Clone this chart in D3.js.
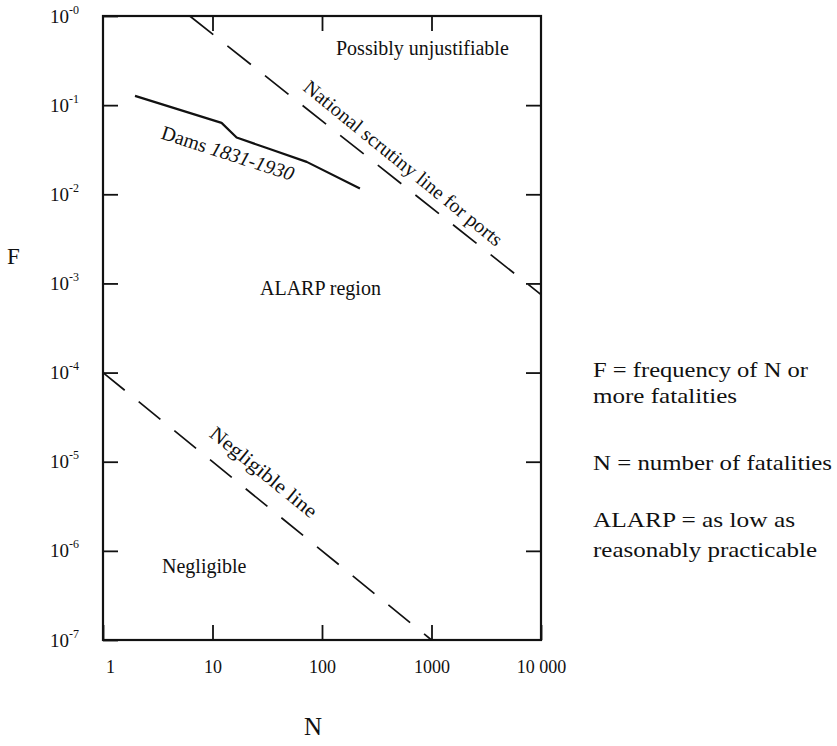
<!DOCTYPE html>
<html>
<head>
<meta charset="utf-8">
<script src="https://cdn.jsdelivr.net/npm/d3@7"></script>
<style>
  body { margin: 0; background: #fff; }
  svg { display: block; }
  text { font-family: "Liberation Serif", "Times New Roman", serif; fill: #111; }
</style>
</head>
<body>
<svg id="chart" width="837" height="746"></svg>
<script>
// N (fatalities) and F (frequency)
var damsN = [1.96, 12.1, 16.6, 32.3, 72.5, 222];
var damsF = [0.127, 0.0633, 0.0434, 0.0326, 0.0231, 0.0116];

var scrutinyN = [6.2, 10000];
var scrutinyF = [1, 7.5e-4];

var negligibleN = [1, 1000];
var negligibleF = [1e-4, 1e-7];

var xTicks = [1, 10, 100, 1000, 10000];
var xTickLabels = ["1", "10", "100", "1000", "10 000"];
var yTicks = [1, 1e-1, 1e-2, 1e-3, 1e-4, 1e-5, 1e-6, 1e-7];
var yTickExp = ["-0", "-1", "-2", "-3", "-4", "-5", "-6", "-7"];

var notes = [
    ["F = frequency of N or", "more fatalities"],
    ["N = number of fatalities"],
    ["ALARP = as low as", "reasonably practicable"]
];

(function() {
    var svg = d3.select("#chart"),
        x0 = 103, x1 = 541, y0 = 16, y1 = 640;

    var x = d3.scaleLog().domain([1, 10000]).range([x0, x1]);
    var y = d3.scaleLog().domain([1e-7, 1]).range([y1, y0]);

    // cadre
    svg.append("rect")
        .attr("x", x0).attr("y", y0)
        .attr("width", x1 - x0).attr("height", y1 - y0)
        .attr("fill", "none").attr("stroke", "#111").attr("stroke-width", 2.2);

    // graduations vers l'intérieur sur les quatre côtés
    function styleAxis(g) {
        g.select(".domain").remove();
        g.selectAll(".tick line").attr("stroke", "#111").attr("stroke-width", 1.8);
        g.selectAll("text").attr("font-family", "Liberation Serif").attr("fill", "#111");
    }

    var xAxis = svg.append("g")
        .attr("transform", "translate(0," + y1 + ")")
        .call(d3.axisBottom(x).tickValues(xTicks).tickSize(-15).tickPadding(20)
            .tickFormat(function(d, i) { return xTickLabels[i]; }))
        .call(styleAxis);
    xAxis.selectAll("text").attr("font-size", 18);
    xAxis.select(".tick text").attr("dx", 7); // le "1" est décalé dans l'original

    svg.append("g")
        .attr("transform", "translate(0," + y0 + ")")
        .call(d3.axisTop(x).tickValues(xTicks.slice(1, 4)).tickSize(-15).tickFormat(""))
        .call(styleAxis);

    svg.append("g")
        .attr("transform", "translate(" + x1 + ",0)")
        .call(d3.axisRight(y).tickValues(yTicks.slice(1, 7)).tickSize(-15).tickFormat(""))
        .call(styleAxis);

    var yAxis = svg.append("g")
        .attr("transform", "translate(" + x0 + ",0)")
        .call(d3.axisLeft(y).tickValues(yTicks).tickSize(-15).tickFormat(""))
        .call(styleAxis);

    // 10 avec exposant
    yAxis.selectAll(".tick").each(function(d, i) {
        var t = d3.select(this).append("text")
            .attr("x", -24).attr("y", 6)
            .attr("text-anchor", "end")
            .attr("font-size", 19);
        t.append("tspan").text("10");
        t.append("tspan").attr("dy", -9).attr("font-size", 12).text(yTickExp[i]);
    });

    // titres des axes
    svg.append("text").attr("x", 7).attr("y", 264).attr("font-size", 23).text("F");
    svg.append("text").attr("x", 304).attr("y", 735).attr("font-size", 25).text("N");

    var line = d3.line()
        .x(function(d) { return x(d[0]); })
        .y(function(d) { return y(d[1]); });

    svg.append("path")
        .datum(d3.zip(scrutinyN, scrutinyF))
        .attr("d", line)
        .attr("fill", "none").attr("stroke", "#111").attr("stroke-width", 1.7)
        .attr("stroke-dasharray", "30,18");

    svg.append("path")
        .datum(d3.zip(negligibleN, negligibleF))
        .attr("d", line)
        .attr("fill", "none").attr("stroke", "#111").attr("stroke-width", 1.7)
        .attr("stroke-dasharray", "28,18");

    svg.append("path")
        .datum(d3.zip(damsN, damsF))
        .attr("d", line)
        .attr("fill", "none").attr("stroke", "#111").attr("stroke-width", 2.2)
        .attr("stroke-linejoin", "round");

    // étiquettes le long des droites
    var slope = Math.atan2(y(0.1) - y(1), x(10) - x(1)) * 180 / Math.PI;

    function rotLabel(n, f, angle, str, len) {
        var t = svg.append("text")
            .attr("transform", "translate(" + x(n) + "," + y(f) + ") rotate(" + angle + ")")
            .attr("font-size", 20);
        if (len) t.attr("textLength", len).attr("lengthAdjust", "spacingAndGlyphs");
        return t.text(str);
    }

    rotLabel(65.7, 0.15, slope, "National scrutiny line for ports", 250);
    rotLabel(9.16, 1.96e-5, slope, "Negligible line", 132);

    var dams = svg.append("text")
        .attr("transform", "translate(" + x(3.32) + "," + y(0.0426) + ") rotate(18)")
        .attr("font-size", 20);
    dams.append("tspan").text("Dams ");
    dams.append("tspan").attr("font-style", "italic").text("1831-1930");

    // zones
    svg.append("text").attr("x", 336).attr("y", 55).attr("font-size", 20).text("Possibly unjustifiable");
    svg.append("text").attr("x", 260).attr("y", 295).attr("font-size", 20).text("ALARP region");
    svg.append("text").attr("x", 162).attr("y", 573).attr("font-size", 20).text("Negligible");

    // notes à droite
    var noteY = [[377, 403], [470], [527, 557]];
    var noteW = [[215, 144], [239], [202, 224]];
    notes.forEach(function(block, b) {
        block.forEach(function(s, i) {
            svg.append("text")
                .attr("x", 593).attr("y", noteY[b][i])
                .attr("font-size", 21)
                .attr("textLength", noteW[b][i]).attr("lengthAdjust", "spacingAndGlyphs")
                .text(s);
        });
    });
})();
</script>
</body>
</html>
